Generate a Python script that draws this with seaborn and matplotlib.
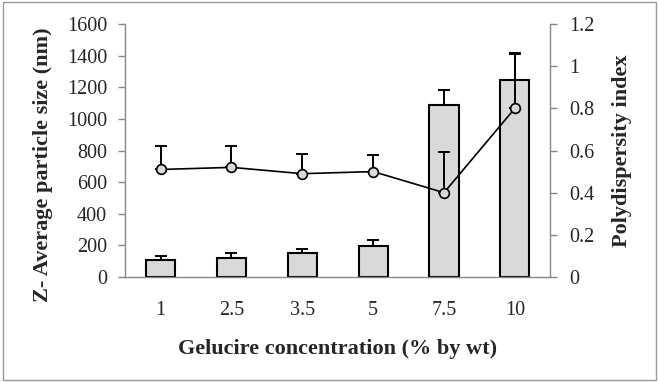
import matplotlib
matplotlib.use("Agg")
import matplotlib.pyplot as plt
import seaborn as sns
import numpy as np
import pandas as pd
from matplotlib.patches import Rectangle

categories = ["1", "2.5", "3.5", "5", "7.5", "10"]
size_nm = [110, 120, 150, 195, 1090, 1245]
size_err = [20, 30, 28, 38, 95, 175]
pdi = [0.51, 0.52, 0.49, 0.50, 0.40, 0.80]
pdi_err = [0.11, 0.10, 0.095, 0.08, 0.195, 0.26]
left_ticks = [0, 200, 400, 600, 800, 1000, 1200, 1400, 1600]
right_ticks = [0, 0.2, 0.4, 0.6, 0.8, 1, 1.2]
right_labels = ["0", "0.2", "0.4", "0.6", "0.8", "1", "1.2"]

sns.set_style("white")
plt.rcParams["font.family"] = ["Liberation Serif", "DejaVu Serif"]
plt.rcParams["font.size"] = 14.5

TICK_FS = 14.5
LABEL_FS = 16

df = pd.DataFrame({"conc": categories, "size": size_nm, "pdi": pdi})

fig = plt.figure(figsize=(6.59, 3.82), dpi=100)
ax = fig.add_axes([0.19, 0.275, 0.645, 0.662])

sns.barplot(data=df, x="conc", y="size", ax=ax, color="#d9d9d9",
            edgecolor="black", linewidth=1.5, width=0.41, saturation=1,
            errorbar=None, zorder=2)
xpos = np.arange(len(categories))
ax.errorbar(xpos, size_nm, yerr=[np.zeros(len(size_err)), size_err],
            fmt="none", ecolor="black", elinewidth=1.4, capsize=4,
            capthick=1.4, zorder=3)

ax.set_ylim(0, 1600)
ax.set_xlim(-0.5, len(categories) - 0.5)
ax.set_yticks(left_ticks)
ax.set_yticklabels([str(t) for t in left_ticks])
ax.set_xticks(xpos)
ax.set_xticklabels(categories)
ax.set_xticks(np.arange(-0.5, len(categories)), minor=True)
ax.tick_params(axis="x", which="major", length=0, pad=17, labelsize=TICK_FS)
ax.tick_params(axis="x", which="minor", length=5, color="#888888", width=1, direction="out")
ax.tick_params(axis="y", length=5, color="#888888", width=1, direction="out", labelsize=TICK_FS, pad=8)
ax.set_xlabel("Gelucire concentration (% by wt)", fontweight="bold", fontsize=LABEL_FS)
ax.set_ylabel("Z- Average particle size (nm)", fontweight="bold", fontsize=LABEL_FS)
ax.xaxis.set_label_coords(0.5, -0.245)
ax.yaxis.set_label_coords(-0.17, 0.445)
for s in ["top", "right"]:
    ax.spines[s].set_visible(False)
for s in ["left", "bottom"]:
    ax.spines[s].set_color("#888888")
    ax.spines[s].set_linewidth(1)

ax2 = ax.twinx()
sns.pointplot(data=df, x="conc", y="pdi", ax=ax2, color="black", errorbar=None,
              markers="o", linestyles="-", markersize=7,
              markerfacecolor="#d9d9d9", markeredgecolor="black",
              markeredgewidth=1.2, linewidth=1.2, zorder=4)
ax2.errorbar(xpos, pdi, yerr=[np.zeros(len(pdi_err)), pdi_err],
             fmt="none", ecolor="black", elinewidth=1.4, capsize=4,
             capthick=1.4, zorder=3)
ax2.set_ylim(0, 1.2)
ax2.set_xlim(-0.5, len(categories) - 0.5)
ax2.set_yticks(right_ticks)
ax2.set_yticklabels(right_labels)
ax2.tick_params(axis="y", length=5, color="#888888", width=1, direction="out", labelsize=TICK_FS, pad=9)
ax2.set_ylabel("Polydispersity index", fontweight="bold", fontsize=LABEL_FS)
ax2.yaxis.set_label_coords(1.145, 0.5)
ax2.set_xlabel("")
for s in ["top", "left", "bottom"]:
    ax2.spines[s].set_visible(False)
ax2.spines["right"].set_color("#888888")
ax2.spines["right"].set_linewidth(1)

fig.patches.append(Rectangle((0.005, 0.005), 0.99, 0.99, transform=fig.transFigure,
                             fill=False, edgecolor="#999999", linewidth=1))

fig.savefig("out.png", dpi=100)
